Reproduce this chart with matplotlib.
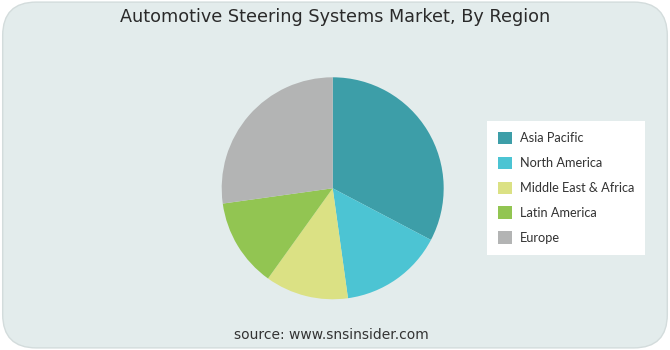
import matplotlib.pyplot as plt
from matplotlib.patches import FancyBboxPatch, Patch

regions = ["Asia Pacific", "North America", "Middle East & Africa", "Latin America", "Europe"]
shares = [32.7, 15.1, 12.1, 12.9, 27.2]
colors = ["#3d9ea8", "#4cc4d3", "#dbe184", "#92c552", "#b3b4b4"]

plt.rcParams['font.family'] = ['DejaVu Sans']

fig = plt.figure(figsize=(6.7, 3.5), dpi=100)
fig.patch.set_facecolor("white")
bg = FancyBboxPatch((0.004, 0.006), 0.992, 0.988, boxstyle="round,pad=0,rounding_size=0.05",
                    transform=fig.transFigure, facecolor="#e3ecec", edgecolor="#d3dcdc",
                    linewidth=1, mutation_aspect=670 / 350, zorder=-10)
fig.patches.append(bg)

ax = fig.add_axes([0.4966 - 0.1657, 0.462 - 0.3171, 0.3313, 0.6343])
ax.pie(shares, colors=colors, startangle=90, counterclock=False,
       wedgeprops=dict(linewidth=0))
ax.set_xlim(-1, 1)
ax.set_ylim(-1, 1)
ax.set_aspect("equal")
ax.axis("off")

fig.text(0.5, 1 - 17 / 350, "Automotive Steering Systems Market, By Region",
         ha="center", va="center", fontsize=12.7, color="#2a2a2a")
fig.text(0.495, 1 - 335 / 350, "source: www.snsinsider.com",
         ha="center", va="center", fontsize=10, color="#333333")

handles = [Patch(facecolor=c, edgecolor="none") for c in colors]
leg = fig.legend(handles, regions, loc="upper left", bbox_to_anchor=(487 / 670, 1 - 121 / 350),
                 frameon=True, fancybox=False, framealpha=1, prop={'family': 'Lato', 'size': 9.2},
                 handlelength=1.1, handleheight=1.1, labelspacing=0.97, handletextpad=0.6,
                 borderpad=0.85, borderaxespad=0)
leg.get_frame().set_facecolor("white")
leg.get_frame().set_edgecolor("white")
leg.get_frame().set_linewidth(0)
for t in leg.get_texts():
    t.set_color("#333333")

fig.savefig("out.png", dpi=100)
